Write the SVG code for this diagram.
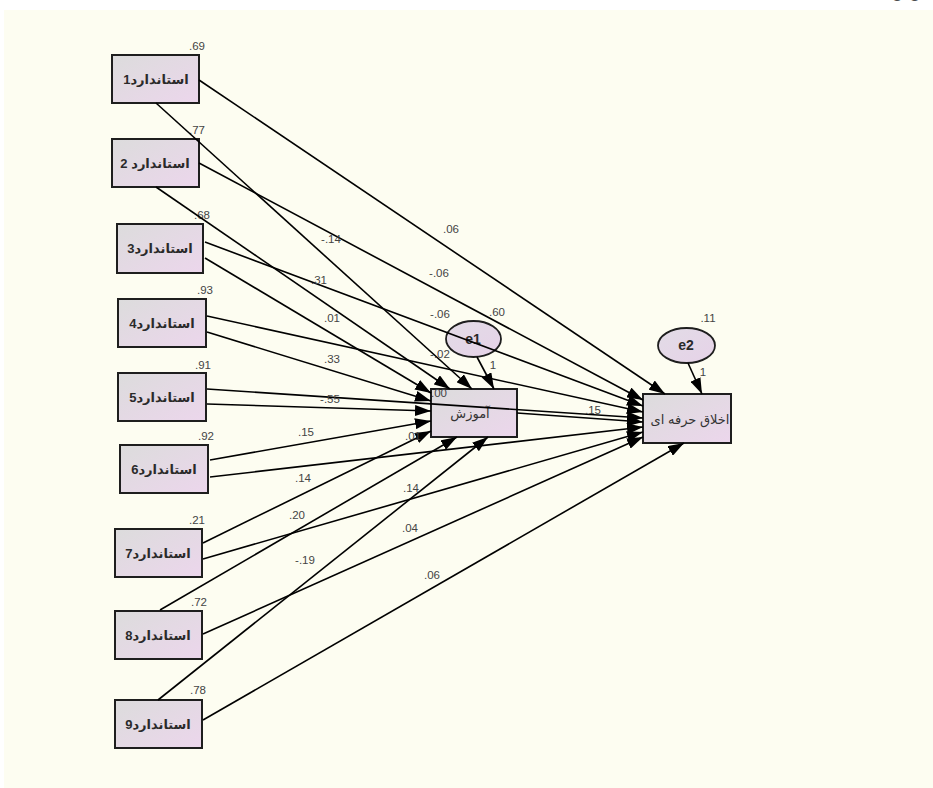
<svg xmlns="http://www.w3.org/2000/svg" width="933" height="788" viewBox="0 0 933 788">
<defs>
<linearGradient id="boxg" x1="0" y1="0" x2="1" y2="1">
<stop offset="0" stop-color="#dcdcdc"/>
<stop offset="1" stop-color="#ecd6ec"/>
</linearGradient>
<linearGradient id="ellg" x1="0" y1="0" x2="1" y2="1">
<stop offset="0" stop-color="#e2dce6"/>
<stop offset="1" stop-color="#e6d2e8"/>
</linearGradient>
<marker id="ah" markerWidth="16" markerHeight="11" refX="16" refY="5.5" orient="auto" markerUnits="userSpaceOnUse">
<path d="M0,0 L16,5.5 L0,11 z" fill="#000"/>
</marker>
<style>
.box{fill:url(#boxg);stroke:#1e1e1e;stroke-width:2}
.ell{fill:url(#ellg);stroke:#1e1e1e;stroke-width:1.8}
.bt{font-family:"Liberation Sans","DejaVu Sans",sans-serif;font-size:13px;font-weight:bold;fill:#2a2a2a;text-anchor:middle}
.ct{font-family:"Liberation Sans","DejaVu Sans",sans-serif;font-size:13px;fill:#333;text-anchor:middle}
.num{font-family:"Liberation Sans",sans-serif;font-size:11.5px;fill:#444;text-anchor:middle}
.c line{stroke:#000;stroke-width:1.6;fill:none}
.c .a{marker-end:url(#ah)}
</style>
</defs>
<rect x="0" y="0" width="933" height="788" fill="#ffffff"/>
<rect x="4" y="10" width="929" height="778" fill="#fdfdf1"/>
<text x="907" y="-1" font-family="DejaVu Sans, sans-serif" font-size="16" fill="#222" text-anchor="middle">ی ی</text>

<g id="s1"><rect class="box" x="112" y="55" width="87" height="48"/><text class="bt" x="156" y="84">استاندارد1</text><text class="num" x="197" y="50">.69</text></g>
<g id="s2"><rect class="box" x="112" y="139" width="87" height="48"/><text class="bt" x="155" y="168">استاندارد 2</text><text class="num" x="197" y="134">.77</text></g>
<g id="s3"><rect class="box" x="117" y="224" width="86" height="49"/><text class="bt" x="160" y="253">استاندارد3</text><text class="num" x="202" y="219">.68</text></g>
<g id="s4"><rect class="box" x="118" y="299" width="88" height="48"/><text class="bt" x="162" y="328">استاندارد4</text><text class="num" x="205" y="294">.93</text></g>
<g id="s5"><rect class="box" x="118" y="373" width="88" height="48"/><text class="bt" x="162" y="402">استاندارد5</text><text class="num" x="203" y="369">.91</text></g>
<g id="s6"><rect class="box" x="120" y="445" width="88" height="48"/><text class="bt" x="164" y="474">استاندارد6</text><text class="num" x="206" y="440">.92</text></g>
<g id="s7"><rect class="box" x="115" y="529" width="87" height="48"/><text class="bt" x="158" y="558">استاندارد7</text><text class="num" x="197" y="524">.21</text></g>
<g id="s8"><rect class="box" x="115" y="611" width="87" height="48"/><text class="bt" x="158" y="640">استاندارد8</text><text class="num" x="199" y="606">.72</text></g>
<g id="s9"><rect class="box" x="115" y="700" width="87" height="48"/><text class="bt" x="158" y="729">استاندارد9</text><text class="num" x="198" y="694">.78</text></g>

<g id="amoozesh"><rect class="box" x="431" y="389" width="86" height="48"/><text class="ct" x="470" y="418">آموزش</text><text class="num" x="439" y="397">.00</text></g>
<g id="akhlagh"><rect class="box" x="643" y="394" width="88" height="49"/><text class="ct" x="690" y="424">اخلاق حرفه ای</text></g>
<g id="e1"><ellipse class="ell" cx="473.5" cy="339" rx="27.5" ry="18"/><text class="bt" x="473" y="344" style="font-size:14px">e1</text><text class="num" x="497" y="316">.60</text></g>
<g id="e2"><ellipse class="ell" cx="686.5" cy="345.5" rx="28.5" ry="17.5"/><text class="bt" x="686" y="350" style="font-size:14px">e2</text><text class="num" x="708" y="322">.11</text></g>

<g id="connectors" class="c">
<line class="a" x1="199" y1="80" x2="665" y2="394"/>
<line class="a" x1="199" y1="163" x2="643" y2="400"/>
<line class="a" x1="205" y1="242" x2="643" y2="406"/>
<line class="a" x1="207" y1="316" x2="643" y2="412"/>
<line class="a" x1="207" y1="389" x2="643" y2="418"/>
<line class="a" x1="517" y1="413" x2="643" y2="422"/>
<line class="a" x1="210" y1="477" x2="643" y2="427"/>
<line class="a" x1="203" y1="559" x2="643" y2="432"/>
<line class="a" x1="203" y1="634" x2="643" y2="437"/>
<line class="a" x1="203" y1="720" x2="684" y2="443"/>
<line class="a" x1="156" y1="103" x2="472" y2="389"/>
<line class="a" x1="156" y1="187" x2="450" y2="389"/>
<line class="a" x1="205" y1="258" x2="431" y2="393"/>
<line class="a" x1="207" y1="332" x2="431" y2="401"/>
<line class="a" x1="207" y1="404" x2="431" y2="411"/>
<line class="a" x1="210" y1="460" x2="431" y2="421"/>
<line class="a" x1="203" y1="543" x2="431" y2="431"/>
<line class="a" x1="160" y1="610" x2="457" y2="437"/>
<line class="a" x1="158" y1="700" x2="488" y2="437"/>
<line class="a" x1="477" y1="357" x2="494" y2="389"/>
<line class="a" x1="688" y1="363" x2="702" y2="394"/>
</g>

<g id="labels">
<text class="num" x="451" y="233">.06</text>
<text class="num" x="331" y="243">-.14</text>
<text class="num" x="439" y="277">-.06</text>
<text class="num" x="319" y="284">.31</text>
<text class="num" x="440" y="318">-.06</text>
<text class="num" x="332" y="322">.01</text>
<text class="num" x="440" y="358">-.02</text>
<text class="num" x="332" y="363">.33</text>
<text class="num" x="493" y="369">1</text>
<text class="num" x="330" y="403">-.55</text>
<text class="num" x="593" y="414">.15</text>
<text class="num" x="306" y="436">.15</text>
<text class="num" x="413" y="440">.01</text>
<text class="num" x="303" y="482">.14</text>
<text class="num" x="411" y="492">.14</text>
<text class="num" x="297" y="519">.20</text>
<text class="num" x="410" y="532">.04</text>
<text class="num" x="305" y="564">-.19</text>
<text class="num" x="432" y="579">.06</text>
<text class="num" x="703" y="376">1</text>
</g>
</svg>
